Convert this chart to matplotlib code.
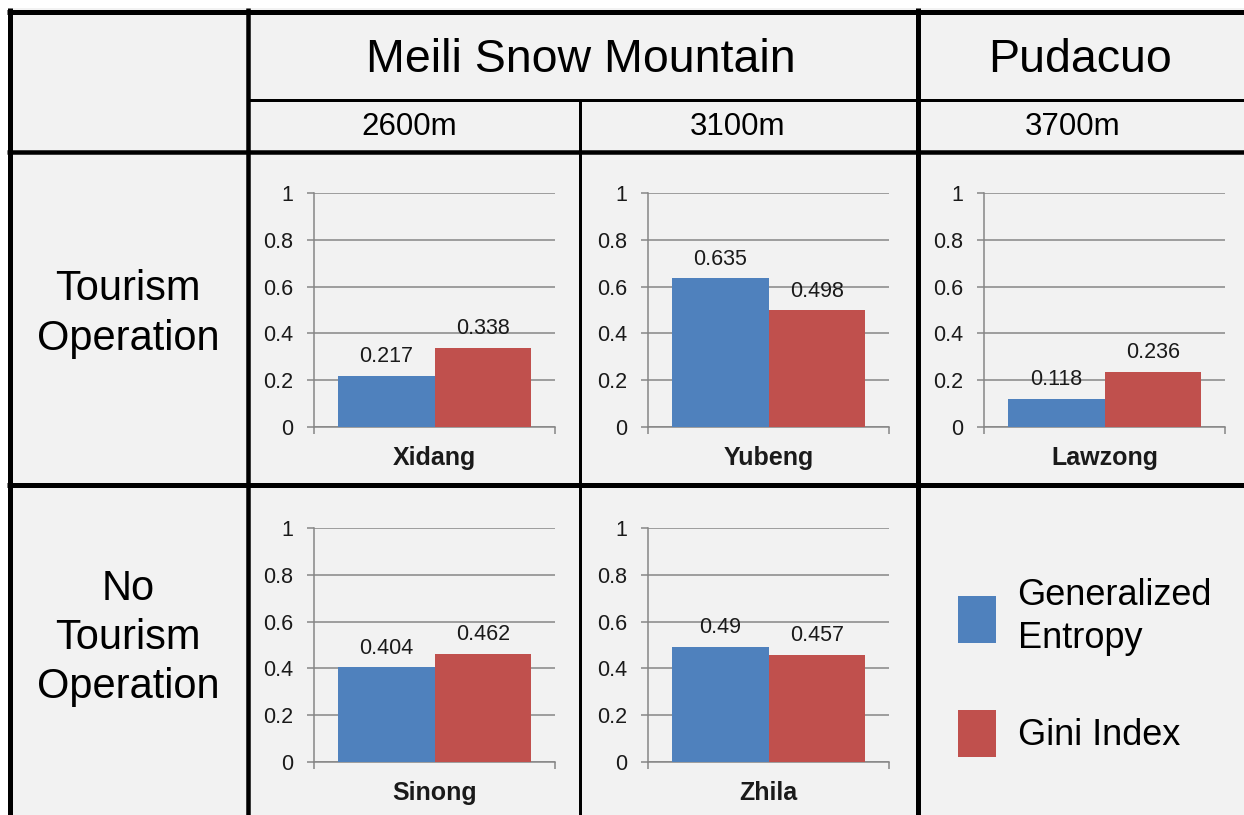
import matplotlib
matplotlib.use("Agg")
import matplotlib.pyplot as plt
from matplotlib.patches import Rectangle
from matplotlib.lines import Line2D

plt.rcParams['font.family'] = ['Liberation Sans', 'DejaVu Sans']

# values per village: generalized entropy and gini index
sites = ['Xidang', 'Yubeng', 'Lawzong', 'Sinong', 'Zhila']
entropy = [0.217, 0.635, 0.118, 0.404, 0.49]
gini = [0.338, 0.498, 0.236, 0.462, 0.457]
series_names = ['Generalized\nEntropy', 'Gini Index']
series_colors = ['#4F81BD', '#C0504D']

mountains = ['Meili Snow Mountain', 'Pudacuo']
altitudes = ['2600m', '3100m', '3700m']
row_names = ['Tourism\nOperation', 'No\nTourism\nOperation']
yticks = [0, 0.2, 0.4, 0.6, 0.8, 1]

W, H = 1244, 815
fig = plt.figure(figsize=(W / 100, H / 100), dpi=100, facecolor='white')


def fx(x):
    return x / W


def fy(y):
    return 1 - y / H


# table background and grid
fig.patches.append(Rectangle((fx(8), 0), 1, fy(8), transform=fig.transFigure,
                             facecolor='#F2F2F2', edgecolor='none', zorder=-1))


def rule(x0, y0, x1, y1, px):
    fig.add_artist(Line2D([fx(x0), fx(x1)], [fy(y0), fy(y1)], color='black',
                          lw=px * 0.72, solid_capstyle='butt', zorder=5))


rule(7, 11.5, W, 11.5, 5)
rule(10, 8, 10, H, 5)
rule(247, 100, W, 100, 3)
rule(7, 151.5, W, 151.5, 4.5)
rule(7, 485, W, 485, 5)
rule(247.5, 8, 247.5, H, 4.5)
rule(580, 100, 580, H, 3)
rule(917.5, 8, 917.5, H, 5)

# header texts
fig.text(fx(581), fy(60), mountains[0], fontsize=33.5, ha='center', va='center')
fig.text(fx(1080), fy(60), mountains[1], fontsize=33.5, ha='center', va='center')
for x, label in zip([409, 738, 1073], altitudes):
    fig.text(fx(x), fy(127), label, fontsize=22.5, ha='center', va='center')
fig.text(fx(128), fy(314), row_names[0], fontsize=30, ha='center', va='center',
         linespacing=1.3)
fig.text(fx(128), fy(638), row_names[1], fontsize=30, ha='center', va='center',
         linespacing=1.3)

# panel boxes: left, right, top (y=1), bottom (y=0) in pixels
panels = [(314, 555, 193, 427), (648, 889, 193, 427), (984, 1225, 193, 427),
          (314, 555, 528, 762), (648, 889, 528, 762)]

grid_gray = '#868686'
bars = None
for i, (l, r, t, b) in enumerate(panels):
    ax = fig.add_axes([fx(l), fy(b), fx(r) - fx(l), fy(t) - fy(b)])
    ax.set_facecolor('none')
    vals = [entropy[i], gini[i]]
    bars = ax.bar([-0.2, 0.2], vals, width=0.4, color=series_colors, zorder=3)
    for xpos, v in zip([-0.2, 0.2], vals):
        ax.annotate(f'{v:g}', (xpos, v), xytext=(0, 10), textcoords='offset points',
                    ha='center', va='baseline', fontsize=15.5, color='#1a1a1a', zorder=4)
    ax.set_xlim(-0.5, 0.5)
    ax.set_ylim(0, 1)
    ax.set_yticks(yticks)
    ax.set_yticklabels([f'{v:g}' for v in yticks])
    ax.set_xticks([-0.5, 0.5])
    ax.set_xticklabels([])
    ax.yaxis.grid(True, color=grid_gray, lw=1.1, zorder=0)
    ax.tick_params(axis='both', direction='out', length=5, width=1.1,
                   color=grid_gray, labelsize=15.5, labelcolor='#1a1a1a', pad=10)
    for s in ['top', 'right']:
        ax.spines[s].set_visible(False)
    for s in ['left', 'bottom']:
        ax.spines[s].set_color(grid_gray)
        ax.spines[s].set_linewidth(1.1)
    ax.annotate(sites[i], (0.5, 0), xycoords='axes fraction', xytext=(0, -22),
                textcoords='offset points', ha='center', va='center',
                fontsize=18, fontweight='bold', color='#1a1a1a')

leg = fig.legend(bars.patches, series_names, loc='center left',
                 bbox_to_anchor=(fx(958), fy(667.5)), frameon=False, fontsize=26,
                 handlelength=1.05, handleheight=1.63, handletextpad=0.6,
                 labelspacing=1.47, borderpad=0, borderaxespad=0)
for t in leg.get_texts():
    t.set_linespacing(1.3)

fig.savefig('out.png', dpi=100, facecolor='white')
